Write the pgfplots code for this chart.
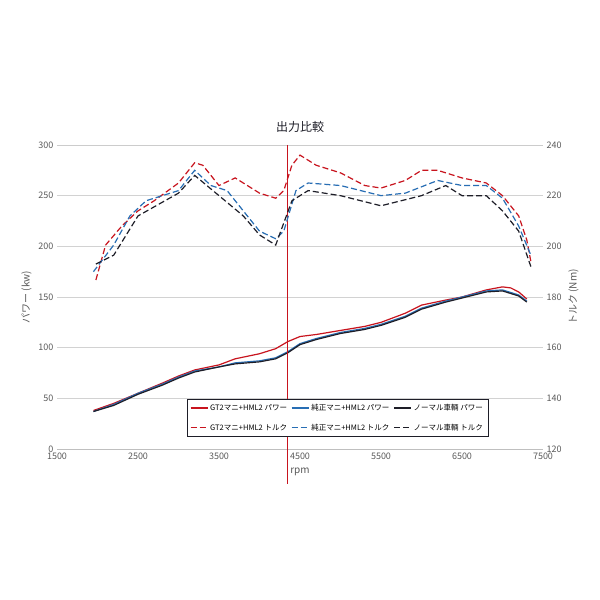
\documentclass[border=0pt]{standalone}
\usepackage{pgfplots}
\pgfplotsset{compat=1.18}
\usepackage{fontspec}
\setmainfont{Noto Sans CJK JP}
\definecolor{cr}{RGB}{200,20,30}
\definecolor{cb}{RGB}{40,110,180}
\definecolor{ck}{RGB}{30,30,40}
\definecolor{tg}{RGB}{90,90,90}
\begin{document}
\begin{tikzpicture}[x=1pt,y=1pt]
\path[fill=white] (0,0) rectangle (600,600);
\pgfplotsset{every axis/.style={scale only axis,width=486pt,height=304pt,at={(57pt,151pt)},anchor=south west,
 xmin=1500,xmax=7500,xtick={1500,2500,...,7500},
 tick label style={font=\fontsize{9}{10}\selectfont,color=tg},
 /pgf/number format/assume math mode=true,
 /pgf/number format/1000 sep={},
 major tick length=0pt, axis line style={draw=none}}}
\begin{axis}[ymin=0,ymax=300,ytick={0,50,...,300},ymajorgrids,grid style={gray!35},
 ylabel={パワー (kw)},ylabel style={font=\fontsize{10}{11}\selectfont,color=tg},
 xlabel={rpm},xlabel style={font=\fontsize{10}{11}\selectfont,color=tg,yshift=-2pt},
 clip=false]
\draw[gray!50] (axis cs:1500,0)--(axis cs:7500,0);
\draw[gray!40] (axis cs:1500,300)--(axis cs:7500,300);
\addplot[color=cr,line width=1.2pt] coordinates {(1950,38)(2200,45)(2500,55)(2800,65)(3000,72)(3200,78)(3500,83)(3700,89)(4000,94)(4200,99)(4350,106)(4500,111)(4700,113)(5000,117)(5300,121)(5500,125)(5800,134)(6000,142)(6300,147)(6500,150)(6800,157)(7000,160)(7100,159)(7200,155)(7300,148)};
\addplot[color=cb,line width=1.2pt] coordinates {(1950,37)(2200,44)(2500,55)(2800,64)(3000,71)(3200,77)(3500,81)(3700,85)(4000,87)(4200,90)(4350,96)(4500,104)(4700,109)(5000,115)(5300,119)(5500,123)(5800,131)(6000,139)(6300,146)(6500,150)(6800,156)(7000,157)(7200,152)(7300,146)};
\addplot[color=ck,line width=1.2pt] coordinates {(1950,37)(2200,43)(2500,54)(2800,63)(3000,70)(3200,76)(3500,81)(3700,84)(4000,86)(4200,89)(4350,95)(4500,103)(4700,108)(5000,114)(5300,118)(5500,122)(5800,130)(6000,138)(6300,145)(6500,149)(6800,155)(7000,156)(7200,151)(7300,145)};
\draw[draw=cr,line width=1.2pt] (axis cs:4350,300)--(axis cs:4350,-35);
\node[font=\fontsize{12}{13}\selectfont,color=ck] at (axis cs:4500,318) {出力比較};
\end{axis}
\begin{axis}[ymin=120,ymax=240,ytick={120,140,...,240},axis y line*=right,hide x axis,
 ylabel={トルク (Nm)},ylabel style={font=\fontsize{10}{11}\selectfont,color=tg},
 legend columns=3,legend style={at={(0.267,0.04)},anchor=south west,font=\fontsize{7.5}{9}\selectfont,
 draw=ck,fill=white,row sep=8pt,inner sep=3pt,/tikz/every even column/.append style={column sep=2pt}},
 legend cell align=left]
\addlegendimage{color=cr,line width=1.2pt}\addlegendentry{GT2マニ+HML2 パワー}
\addlegendimage{color=cb,line width=1.2pt}\addlegendentry{純正マニ+HML2 パワー}
\addlegendimage{color=ck,line width=1.2pt}\addlegendentry{ノーマル車輌 パワー}
\addlegendimage{color=cr,line width=1.2pt,dash pattern=on 6pt off 3pt}\addlegendentry{GT2マニ+HML2 トルク}
\addlegendimage{color=cb,line width=1.2pt,dash pattern=on 6pt off 3pt}\addlegendentry{純正マニ+HML2 トルク}
\addlegendimage{color=ck,line width=1.2pt,dash pattern=on 6pt off 3pt}\addlegendentry{ノーマル車輌 トルク}
\addplot[color=cr,line width=1.2pt,dash pattern=on 6pt off 3pt,forget plot] coordinates {(1980,186.7)(2100,200.5)(2300,208)(2500,214)(2700,218)(3000,225)(3200,233)(3300,232)(3500,224)(3700,227)(4000,221)(4200,219)(4300,222)(4400,232)(4500,236)(4700,232)(5000,229)(5300,224)(5500,223)(5800,226)(5900,228)(6000,230)(6200,230)(6500,227)(6800,225)(7000,220)(7200,212)(7300,202.5)(7350,194)};
\addplot[color=cb,line width=1.2pt,dash pattern=on 6pt off 3pt,forget plot] coordinates {(1950,190)(2200,200.5)(2400,212)(2600,218)(3000,222)(3200,230)(3400,224)(3600,222)(3800,214)(4000,206)(4200,203)(4300,206)(4450,222)(4600,225)(5000,224)(5500,220)(5800,221)(6200,226)(6500,224)(6800,224)(7000,219)(7200,208)(7350,196.5)};
\addplot[color=ck,line width=1.2pt,dash pattern=on 6pt off 3pt,forget plot] coordinates {(1980,193)(2200,196.5)(2500,212)(3000,221)(3200,228)(3500,220)(3800,212)(4000,204.5)(4200,200.5)(4400,218)(4600,222)(5000,220)(5500,216)(6000,220)(6300,224)(6500,220)(6800,220)(7000,214)(7200,206)(7350,192)};
\end{axis}
\end{tikzpicture}
\end{document}
